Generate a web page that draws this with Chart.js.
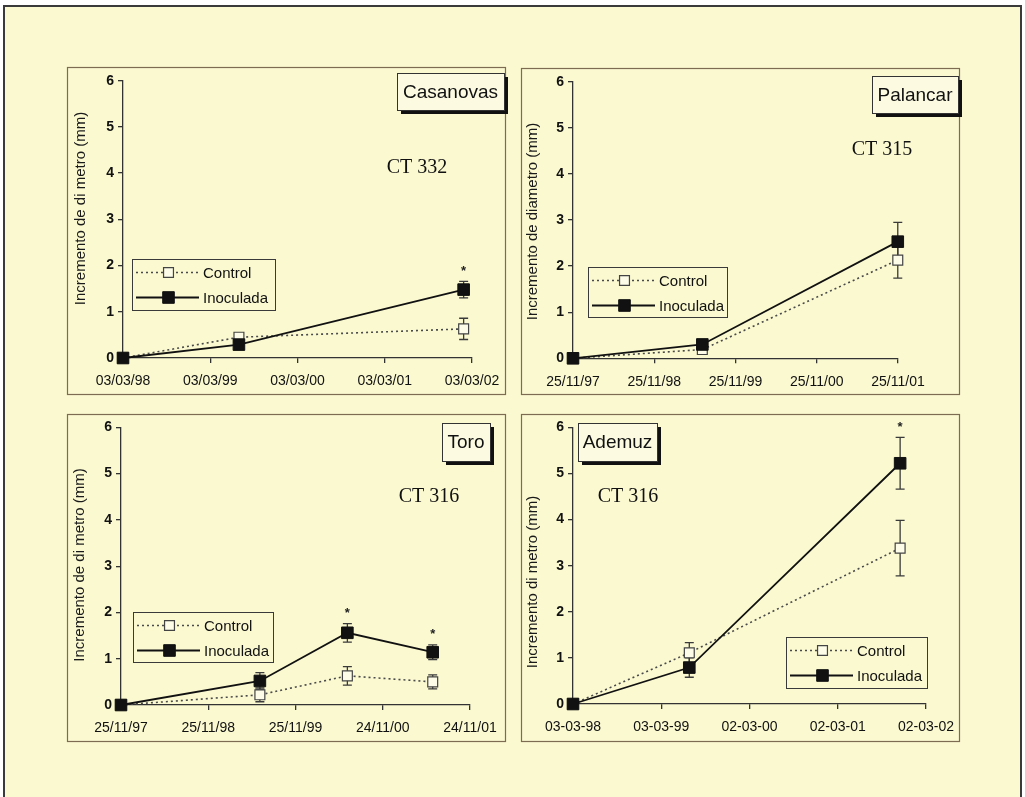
<!DOCTYPE html>
<html>
<head>
<meta charset="utf-8">
<title>Incremento de diámetro</title>
<script src="https://cdn.jsdelivr.net/npm/chart.js@4.4.1/dist/chart.umd.min.js"></script>
<style>
  html, body { margin: 0; padding: 0; background: #ffffff; }
  #sheet {
    position: absolute; left: 3px; top: 5px; width: 1015px; height: 800px;
    background: #fbf9d0;
    border-left: 2px solid #3a3a3a; border-top: 2px solid #3a3a3a; border-right: 2px solid #3a3a3a;
  }
  canvas { position: absolute; }
</style>
</head>
<body>
<div id="sheet"></div>
<canvas id="casanovas"></canvas>
<canvas id="palancar"></canvas>
<canvas id="toro"></canvas>
<canvas id="ademuz"></canvas>
<script>
// ---- Casanovas (CT 332) ----
const casanovasTicks = ['03/03/98', '03/03/99', '03/03/00', '03/03/01', '03/03/02'];
const casanovasDates = ['1998-03-03', '1999-07-01', '2002-01-26'];
const casanovasControl = [0, 0.45, 0.63];
const casanovasControlErr = [0, 0, 0.23];
const casanovasInoculada = [0, 0.29, 1.48];
const casanovasInoculadaErr = [0, 0, 0.18];
const casanovasSignif = [false, false, true];

// ---- Palancar (CT 315) ----
const palancarTicks = ['25/11/97', '25/11/98', '25/11/99', '25/11/00', '25/11/01'];
const palancarDates = ['1997-11-25', '1999-06-29', '2001-11-23'];
const palancarControl = [0, 0.19, 2.13];
const palancarControlErr = [0, 0, 0.39];
const palancarInoculada = [0, 0.30, 2.53];
const palancarInoculadaErr = [0, 0, 0.42];
const palancarSignif = [false, false, false];

// ---- Toro (CT 316) ----
const toroTicks = ['25/11/97', '25/11/98', '25/11/99', '24/11/00', '24/11/01'];
const toroDates = ['1997-11-25', '1999-06-29', '2000-06-29', '2001-06-21'];
const toroControl = [0, 0.22, 0.63, 0.50];
const toroControlErr = [0, 0.15, 0.20, 0.15];
const toroInoculada = [0, 0.52, 1.56, 1.14];
const toroInoculadaErr = [0, 0.18, 0.20, 0.16];
const toroSignif = [false, false, true, true];

// ---- Ademuz (CT 316) ----
const ademuzTicks = ['03-03-98', '03-03-99', '02-03-00', '02-03-01', '02-03-02'];
const ademuzDates = ['1998-03-03', '1999-06-27', '2001-11-15'];
const ademuzControl = [0, 1.11, 3.38];
const ademuzControlErr = [0, 0.22, 0.60];
const ademuzInoculada = [0, 0.79, 5.22];
const ademuzInoculadaErr = [0, 0.21, 0.56];
const ademuzSignif = [false, false, true];

const seriesNames = ['Control', 'Inoculada'];
const yTicks = [0, 1, 2, 3, 4, 5, 6];

// ---- drawing setup ----
const SANS = "'Liberation Sans', Arial, Helvetica, sans-serif";
const SERIF = "'Liberation Serif', 'Times New Roman', serif";
const MARGIN = 6;
const DAY = 86400000;

function dayOffset(d, start) {
  return Math.round((Date.parse(d) - Date.parse(start)) / DAY);
}

const panels = [
  {
    id: 'casanovas', name: 'Casanovas', clone: 'CT 332', ticks: casanovasTicks, dates: casanovasDates,
    control: casanovasControl, controlErr: casanovasControlErr,
    inoc: casanovasInoculada, inocErr: casanovasInoculadaErr, signif: casanovasSignif,
    yTitle: 'Incremento de di metro (mm)',
    frame: { x: 67, y: 67, w: 438, h: 327 }, plot: { l: 123, r: 472, t: 80.7, b: 358 },
    nameBox: { x: 397, y: 73, w: 107, h: 37 }, clonePos: { x: 417, y: 168 },
    legendBox: { x: 132, y: 259, w: 143, h: 51 }, yTitlePos: { x: 80.5, y: 208.5 }
  },
  {
    id: 'palancar', name: 'Palancar', clone: 'CT 315', ticks: palancarTicks, dates: palancarDates,
    control: palancarControl, controlErr: palancarControlErr,
    inoc: palancarInoculada, inocErr: palancarInoculadaErr, signif: palancarSignif,
    yTitle: 'Incremento de diametro (mm)',
    frame: { x: 521, y: 68, w: 438, h: 326 }, plot: { l: 573, r: 898, t: 81.7, b: 358.3 },
    nameBox: { x: 872, y: 76, w: 86, h: 37 }, clonePos: { x: 882, y: 150 },
    legendBox: { x: 588, y: 267, w: 139, h: 50 }, yTitlePos: { x: 532.5, y: 221.5 }
  },
  {
    id: 'toro', name: 'Toro', clone: 'CT 316', ticks: toroTicks, dates: toroDates,
    control: toroControl, controlErr: toroControlErr,
    inoc: toroInoculada, inocErr: toroInoculadaErr, signif: toroSignif,
    yTitle: 'Incremento de di metro (mm)',
    frame: { x: 67, y: 414, w: 438, h: 327 }, plot: { l: 121, r: 470, t: 427.3, b: 705 },
    nameBox: { x: 442, y: 423, w: 48, h: 38 }, clonePos: { x: 429, y: 497 },
    legendBox: { x: 133, y: 612, w: 140, h: 50 }, yTitlePos: { x: 80, y: 565 }
  },
  {
    id: 'ademuz', name: 'Ademuz', clone: 'CT 316', ticks: ademuzTicks, dates: ademuzDates,
    control: ademuzControl, controlErr: ademuzControlErr,
    inoc: ademuzInoculada, inocErr: ademuzInoculadaErr, signif: ademuzSignif,
    yTitle: 'Incremento di metro (mm)',
    frame: { x: 521, y: 414, w: 438, h: 327 }, plot: { l: 573, r: 926, t: 427.3, b: 704 },
    nameBox: { x: 578, y: 423, w: 79, h: 38 }, clonePos: { x: 628, y: 497 },
    legendBox: { x: 786, y: 637, w: 141, h: 51 }, yTitlePos: { x: 533, y: 582 }
  }
];

// Frame, name box, clone label, y title, error bars, asterisks and legend
const panelDecor = {
  id: 'panelDecor',
  beforeDraw(chart) {
    const p = chart.options.plugins.panelDecor.panel;
    const o = chart.options.plugins.panelDecor.origin;
    const ctx = chart.ctx;
    ctx.save();
    ctx.strokeStyle = '#7d6c52';
    ctx.lineWidth = 1.2;
    ctx.strokeRect(p.frame.x - o.x + 0.5, p.frame.y - o.y + 0.5, p.frame.w, p.frame.h);
    ctx.restore();
  },
  beforeDatasetsDraw(chart) {
    const ctx = chart.ctx;
    const y = chart.scales.y;
    ctx.save();
    ctx.strokeStyle = '#3a3a3a';
    ctx.lineWidth = 1.3;
    chart.data.datasets.forEach((ds, di) => {
      const meta = chart.getDatasetMeta(di);
      meta.data.forEach((pt, i) => {
        const e = ds.err[i];
        if (!e) return;
        const v = ds.data[i].y;
        const yt = y.getPixelForValue(v + e), yb = y.getPixelForValue(v - e);
        ctx.beginPath();
        ctx.moveTo(pt.x, yt); ctx.lineTo(pt.x, yb);
        ctx.moveTo(pt.x - 4.5, yt); ctx.lineTo(pt.x + 4.5, yt);
        ctx.moveTo(pt.x - 4.5, yb); ctx.lineTo(pt.x + 4.5, yb);
        ctx.stroke();
      });
    });
    ctx.restore();
  },
  afterDraw(chart) {
    const p = chart.options.plugins.panelDecor.panel;
    const o = chart.options.plugins.panelDecor.origin;
    const ctx = chart.ctx;
    const y = chart.scales.y;
    ctx.save();

    // significance marks
    ctx.fillStyle = '#222';
    ctx.font = `bold 13px ${SANS}`;
    ctx.textAlign = 'center';
    ctx.textBaseline = 'middle';
    chart.data.datasets.forEach((ds, di) => {
      if (!ds.signif) return;
      const meta = chart.getDatasetMeta(di);
      meta.data.forEach((pt, i) => {
        if (!ds.signif[i]) return;
        const top = y.getPixelForValue(ds.data[i].y + ds.err[i]);
        ctx.fillText('*', pt.x, top - 10);
      });
    });

    // y-axis title
    ctx.save();
    ctx.translate(p.yTitlePos.x - o.x, p.yTitlePos.y - o.y);
    ctx.rotate(-Math.PI / 2);
    ctx.font = `15px ${SANS}`;
    ctx.fillStyle = '#1a1a1a';
    ctx.fillText(p.yTitle, 0, 0);
    ctx.restore();

    // site name box with drop shadow
    const nb = { x: p.nameBox.x - o.x, y: p.nameBox.y - o.y, w: p.nameBox.w, h: p.nameBox.h };
    ctx.fillStyle = '#111';
    ctx.fillRect(nb.x + 4, nb.y + 4, nb.w, nb.h);
    ctx.fillStyle = '#fcfbe2';
    ctx.fillRect(nb.x, nb.y, nb.w, nb.h);
    ctx.strokeStyle = '#333';
    ctx.lineWidth = 1;
    ctx.strokeRect(nb.x + 0.5, nb.y + 0.5, nb.w, nb.h);
    ctx.fillStyle = '#111';
    ctx.font = `19px ${SANS}`;
    ctx.fillText(p.name, nb.x + nb.w / 2, nb.y + nb.h / 2 + 1);

    // clone label
    ctx.font = `20px ${SERIF}`;
    ctx.fillText(p.clone, p.clonePos.x - o.x, p.clonePos.y - o.y);

    // legend
    const lb = { x: p.legendBox.x - o.x, y: p.legendBox.y - o.y, w: p.legendBox.w, h: p.legendBox.h };
    ctx.strokeStyle = '#3a3a3a';
    ctx.lineWidth = 1;
    ctx.strokeRect(lb.x + 0.5, lb.y + 0.5, lb.w, lb.h);
    const rows = [lb.y + 13.5, lb.y + 38.5];
    chart.data.datasets.forEach((ds, di) => {
      const ry = rows[di];
      ctx.save();
      ctx.strokeStyle = ds.borderColor;
      ctx.lineWidth = ds.borderWidth;
      ctx.setLineDash(ds.borderDash || []);
      ctx.beginPath();
      ctx.moveTo(lb.x + 4, ry); ctx.lineTo(lb.x + 67, ry);
      ctx.stroke();
      ctx.setLineDash([]);
      ctx.fillStyle = ds.pointBackgroundColor;
      ctx.strokeStyle = ds.pointBorderColor;
      ctx.lineWidth = ds.pointBorderWidth;
      Chart.helpers.drawPoint(ctx, { pointStyle: 'rect', radius: ds.pointRadius, borderWidth: ds.pointBorderWidth, rotation: 0 }, lb.x + 36.5, ry);
      ctx.restore();
      ctx.fillStyle = '#111';
      ctx.font = `15px ${SANS}`;
      ctx.textAlign = 'left';
      ctx.fillText(ds.label, lb.x + 71, ry + 1);
    });
    ctx.restore();
  }
};

function buildPanel(p) {
  const cv = document.getElementById(p.id);
  const W = p.frame.w + 2 * MARGIN, H = p.frame.h + 2 * MARGIN;
  const origin = { x: p.frame.x - MARGIN, y: p.frame.y - MARGIN };
  cv.width = W; cv.height = H;
  cv.style.left = origin.x + 'px'; cv.style.top = origin.y + 'px';
  cv.style.width = W + 'px'; cv.style.height = H + 'px';
  const area = { l: p.plot.l - origin.x, r: p.plot.r - origin.x, t: p.plot.t - origin.y, b: p.plot.b - origin.y };
  const start = p.dates[0];
  const toPoints = vals => p.dates.map((d, i) => ({ x: dayOffset(d, start), y: vals[i] }));
  const span = 365 * (p.ticks.length - 1);

  const axisCommon = {
    grid: { display: true, drawOnChartArea: false, drawTicks: true, tickLength: 5, color: '#333', lineWidth: 1.3 },
    border: { display: true, color: '#333', width: 1.3 }
  };

  new Chart(cv, {
    type: 'line',
    data: {
      datasets: [
        {
          label: seriesNames[0], data: toPoints(p.control), err: p.controlErr, signif: null,
          borderColor: '#4a4a4a', borderWidth: 1.6, borderDash: [2, 3],
          pointStyle: 'rect', pointRadius: 7, pointBackgroundColor: '#fdfce8',
          pointBorderColor: '#444', pointBorderWidth: 1.2, order: 1, clip: false, tension: 0
        },
        {
          label: seriesNames[1], data: toPoints(p.inoc), err: p.inocErr, signif: p.signif,
          borderColor: '#111', borderWidth: 1.8,
          pointStyle: 'rect', pointRadius: 8.2, pointBackgroundColor: '#111',
          pointBorderColor: '#111', pointBorderWidth: 1, order: 0, clip: false, tension: 0
        }
      ]
    },
    options: {
      responsive: false, animation: false, devicePixelRatio: 1,
      layout: { padding: { left: 0, top: area.t, right: W - area.r, bottom: 0 } },
      scales: {
        x: Object.assign({
          type: 'linear', min: 0, max: span,
          ticks: {
            stepSize: 365, autoSkip: false, maxRotation: 0, padding: 10,
            color: '#111', font: { family: SANS, size: 14 },
            callback: (v, i) => p.ticks[i]
          },
          afterFit: s => { s.height = H - area.b; }
        }, axisCommon),
        y: Object.assign({
          type: 'linear', min: yTicks[0], max: yTicks[yTicks.length - 1],
          ticks: {
            stepSize: 1, padding: 4, color: '#111', font: { family: SANS, size: 14, weight: 'bold' }
          },
          afterFit: s => { s.width = area.l; }
        }, axisCommon)
      },
      plugins: {
        legend: { display: false },
        tooltip: { enabled: false },
        panelDecor: { panel: p, origin: origin }
      }
    },
    plugins: [panelDecor]
  });
}

panels.forEach(buildPanel);
</script>
</body>
</html>
